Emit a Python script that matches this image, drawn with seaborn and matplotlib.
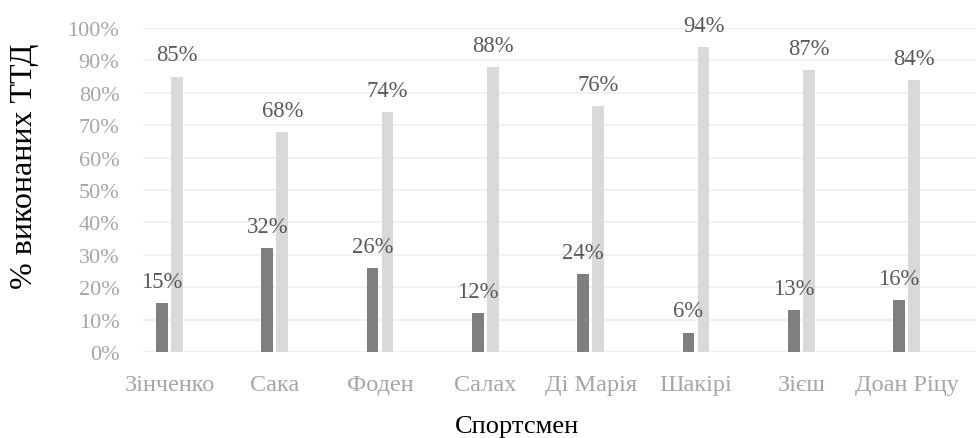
import matplotlib
matplotlib.use("Agg")
import matplotlib.pyplot as plt
import seaborn as sns
import pandas as pd
from matplotlib.ticker import PercentFormatter

# Частка техніко-тактичних дій (ТТД), %
athletes = ["Зінченко", "Сака", "Фоден", "Салах", "Ді Марія", "Шакірі", "Зієш", "Доан Ріцу"]
unsuccessful = [15, 32, 26, 12, 24, 6, 13, 16]
successful = [85, 68, 74, 88, 76, 94, 87, 84]
series_names = ["Невдалі ТТД", "Вдалі ТТД"]
y_ticks = [0, 10, 20, 30, 40, 50, 60, 70, 80, 90, 100]

df = pd.DataFrame({
    "Спортсмен": athletes * 2,
    "Серія": [series_names[0]] * len(athletes) + [series_names[1]] * len(athletes),
    "Частка": [v / 100 for v in unsuccessful + successful],
})

sns.set_theme(style="white")
plt.rcParams["font.family"] = ["Liberation Serif", "DejaVu Serif"]

W, H = 976, 439
fig = plt.figure(figsize=(W / 100, H / 100), dpi=100)
ax = fig.add_axes([143 / W, 1 - 353 / H, 1 - 143 / W, (353 - 29) / H])

sns.barplot(
    data=df, x="Спортсмен", y="Частка", hue="Серія", ax=ax,
    palette=["#7f7f7f", "#d9d9d9"], width=0.285, gap=0.22,
    legend=False, saturation=1, linewidth=0, errorbar=None,
)

label_color = "#595959"
for container, values in zip(ax.containers, [unsuccessful, successful]):
    ax.bar_label(container, labels=[f"{v}%" for v in values], padding=8,
                 fontsize=16.3, color=label_color)

ax.set_ylim(0, 1.0)
ax.set_yticks([t / 100 for t in y_ticks])
ax.yaxis.set_major_formatter(PercentFormatter(1.0, decimals=0))
ax.set_xlim(-0.2517, 7.659)

ax.grid(axis="y", color="#f0f0f0", linewidth=1.3)
ax.grid(axis="x", visible=False)
ax.set_axisbelow(True)
for s in ax.spines.values():
    s.set_visible(False)

ax.tick_params(axis="y", length=0, pad=17, labelsize=16, labelcolor="#a6a6a6")
ax.tick_params(axis="x", length=0, pad=16, labelsize=17.5, labelcolor="#a6a6a6")
ax.set_xlabel("")
ax.set_ylabel("")

fig.text(517 / W, 1 - 427 / H, "Спортсмен", ha="center", va="center",
         fontsize=19, color="black")
fig.text(25 / W, 1 - 166 / H, "% виконаних ТТД", ha="center", va="center",
         rotation=90, fontsize=23, color="black")

fig.savefig("out.png", dpi=100)
